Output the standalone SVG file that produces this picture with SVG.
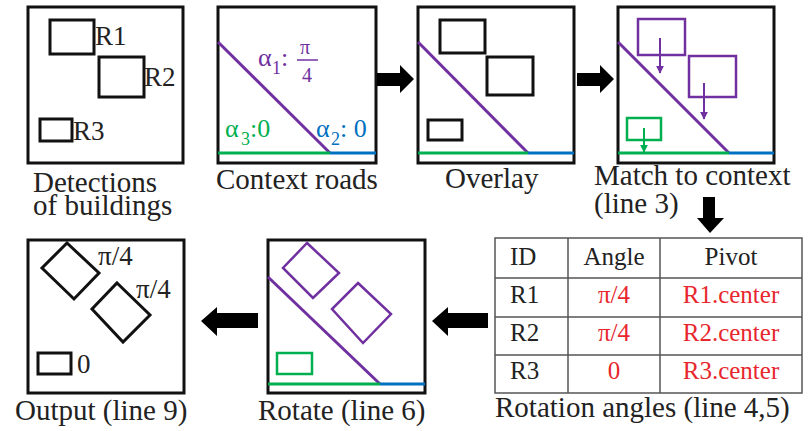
<svg xmlns="http://www.w3.org/2000/svg" width="811" height="431" viewBox="0 0 811 431" font-family="'Liberation Serif', 'Times New Roman', Tinos, 'DejaVu Serif', serif">
  <defs>
    <style>
      text { font-family: 'Liberation Serif', 'Times New Roman', Tinos, 'DejaVu Serif', serif; }
      .frame { fill: #fff; stroke: #111; stroke-width: 3; }
      .bld { fill: none; stroke: #111; stroke-width: 3; }
      .pbld { fill: none; stroke: #7030A0; stroke-width: 2.5; }
      .gbld { fill: none; stroke: #00B050; stroke-width: 2.5; }
      .road-p { stroke: #7030A0; stroke-width: 3; }
      .road-g { stroke: #00B050; stroke-width: 3; }
      .road-b { stroke: #0070C0; stroke-width: 3; }
      .lbl { font-size: 29px; fill: #222; }
      .rlbl { font-size: 27px; fill: #222; }
      .math { font-size: 26px; }
      .tbl { font-size: 25px; fill: #222; }
      .red { fill: #E8262E; }
      .grid { stroke: #555; stroke-width: 1.5; fill: none; }
      .flow { fill: #000; }
    </style>
    <marker id="ah-p" viewBox="0 0 10 10" refX="9" refY="5" markerWidth="4" markerHeight="4" orient="auto">
      <path d="M0,0 L10,5 L0,10 z" fill="#7030A0"/>
    </marker>
    <marker id="ah-g" viewBox="0 0 10 10" refX="9" refY="5" markerWidth="4" markerHeight="4" orient="auto">
      <path d="M0,0 L10,5 L0,10 z" fill="#00B050"/>
    </marker>
  </defs>
  <rect width="811" height="431" fill="#fff"/>

  <!-- Detections of buildings -->
  <g id="detections">
    <rect class="frame" x="28" y="7" width="155" height="156"/>
    <rect class="bld" x="50" y="20" width="44" height="34"/>
    <rect class="bld" x="99" y="57" width="45" height="40"/>
    <rect class="bld" x="40" y="119" width="32" height="22"/>
    <text class="rlbl" x="95" y="45">R1</text>
    <text class="rlbl" x="144" y="86">R2</text>
    <text class="rlbl" x="73" y="140">R3</text>
    <text class="lbl" x="33" y="192">Detections</text>
    <text class="lbl" x="33" y="215">of buildings</text>
  </g>

  <!-- Context roads -->
  <g id="context-roads">
    <rect class="frame" x="218" y="7" width="158" height="156"/>
    <line class="road-p" x1="218" y1="42" x2="330" y2="153"/>
    <line class="road-g" x1="218" y1="153" x2="330" y2="153"/>
    <line class="road-b" x1="330" y1="153" x2="376" y2="153"/>
    <g fill="#7030A0" class="math">
      <text x="258" y="66">α</text>
      <text x="272" y="74" font-size="18">1</text>
      <text x="281" y="66">:</text>
      <text x="300" y="54" font-size="20">π</text>
      <line x1="297" y1="60" x2="318" y2="60" stroke="#7030A0" stroke-width="1.5"/>
      <text x="302" y="82" font-size="20">4</text>
    </g>
    <g fill="#00B050" class="math">
      <text x="225" y="137">α</text>
      <text x="241" y="145" font-size="18">3</text>
      <text x="250" y="137">:0</text>
    </g>
    <g fill="#0070C0" class="math">
      <text x="316" y="137">α</text>
      <text x="331" y="145" font-size="18">2</text>
      <text x="340" y="137">: 0</text>
    </g>
    <text class="lbl" x="216" y="189">Context roads</text>
  </g>

  <!-- Overlay -->
  <g id="overlay">
    <rect class="frame" x="418" y="7" width="156" height="156"/>
    <rect class="bld" x="440" y="20" width="45" height="33"/>
    <rect class="bld" x="487" y="57" width="46" height="38"/>
    <rect class="bld" x="428" y="120" width="34" height="20"/>
    <line class="road-p" x1="418" y1="42" x2="528" y2="153"/>
    <line class="road-g" x1="418" y1="153" x2="528" y2="153"/>
    <line class="road-b" x1="528" y1="153" x2="574" y2="153"/>
    <text class="lbl" x="445" y="188">Overlay</text>
  </g>

  <!-- Match to context -->
  <g id="match">
    <rect class="frame" x="618" y="7" width="156" height="156"/>
    <line class="road-p" x1="618" y1="42" x2="729" y2="153"/>
    <line class="road-g" x1="618" y1="153" x2="729" y2="153"/>
    <line class="road-b" x1="729" y1="153" x2="774" y2="153"/>
    <rect class="pbld" x="638" y="19" width="47" height="36"/>
    <rect class="pbld" x="689" y="56" width="47" height="41"/>
    <rect class="gbld" x="627" y="118" width="34" height="22"/>
    <line x1="660" y1="38" x2="660" y2="73" stroke="#7030A0" stroke-width="2" marker-end="url(#ah-p)"/>
    <line x1="704" y1="83" x2="704" y2="119" stroke="#7030A0" stroke-width="2" marker-end="url(#ah-p)"/>
    <line x1="644" y1="128" x2="644" y2="152" stroke="#00B050" stroke-width="2" marker-end="url(#ah-g)"/>
    <text class="lbl" x="594" y="185">Match to context</text>
    <text class="lbl" x="594" y="213">(line 3)</text>
  </g>

  <!-- Rotation angles table -->
  <g id="angles">
    <rect class="grid" x="495" y="238" width="307" height="155"/>
    <line class="grid" x1="568" y1="238" x2="568" y2="393"/>
    <line class="grid" x1="660" y1="238" x2="660" y2="393"/>
    <line class="grid" x1="495" y1="278" x2="802" y2="278"/>
    <line class="grid" x1="495" y1="317" x2="802" y2="317"/>
    <line class="grid" x1="495" y1="355" x2="802" y2="355"/>
    <text class="tbl" x="510" y="265">ID</text>
    <text class="tbl" x="614" y="265" text-anchor="middle">Angle</text>
    <text class="tbl" x="731" y="265" text-anchor="middle">Pivot</text>
    <text class="tbl" x="510" y="303">R1</text>
    <text class="tbl" x="510" y="341">R2</text>
    <text class="tbl" x="510" y="379">R3</text>
    <text class="tbl red" x="614" y="303" text-anchor="middle">π/4</text>
    <text class="tbl red" x="614" y="341" text-anchor="middle">π/4</text>
    <text class="tbl red" x="614" y="379" text-anchor="middle">0</text>
    <text class="tbl red" x="731" y="303" text-anchor="middle">R1.center</text>
    <text class="tbl red" x="731" y="341" text-anchor="middle">R2.center</text>
    <text class="tbl red" x="731" y="379" text-anchor="middle">R3.center</text>
    <text class="lbl" x="495" y="417">Rotation angles (line 4,5)</text>
  </g>

  <!-- Rotate -->
  <g id="rotate">
    <rect class="frame" x="268" y="240" width="157" height="153"/>
    <line class="road-p" x1="268" y1="277" x2="380" y2="384"/>
    <line class="road-g" x1="268" y1="384" x2="380" y2="384"/>
    <line class="road-b" x1="380" y1="384" x2="425" y2="384"/>
    <polygon class="pbld" points="307,243 339,273 313,298 283,268"/>
    <polygon class="pbld" points="358,283 391,314 363,343 332,309"/>
    <rect class="gbld" x="277" y="353" width="35" height="21"/>
    <text class="lbl" x="258" y="420">Rotate (line 6)</text>
  </g>

  <!-- Output -->
  <g id="output">
    <rect class="frame" x="28" y="240" width="156" height="153"/>
    <polygon class="bld" points="67,243 99,273 74,299 42,268"/>
    <polygon class="bld" points="117,283 150,315 123,342 92,309"/>
    <rect class="bld" x="38" y="353" width="33" height="21"/>
    <text class="rlbl" x="98" y="265">π/4</text>
    <text class="rlbl" x="136" y="298">π/4</text>
    <text class="rlbl" x="77" y="373">0</text>
    <text class="lbl" x="15" y="420">Output (line 9)</text>
  </g>

  <!-- flow arrows -->
  <g id="connectors">
    <polygon class="flow" points="377,73 400,73 400,65 414,79 400,93 400,86 377,86"/>
    <polygon class="flow" points="577,73 600,73 600,65 614,79 600,93 600,86 577,86"/>
    <polygon class="flow" points="703,197 715,197 715,218 724,218 710,233 697,218 703,218"/>
    <polygon class="flow" points="488,313 448,313 448,307 432,321 448,336 448,328 488,328"/>
    <polygon class="flow" points="258,313 217,313 217,307 201,321 217,336 217,328 258,328"/>
  </g>
</svg>
